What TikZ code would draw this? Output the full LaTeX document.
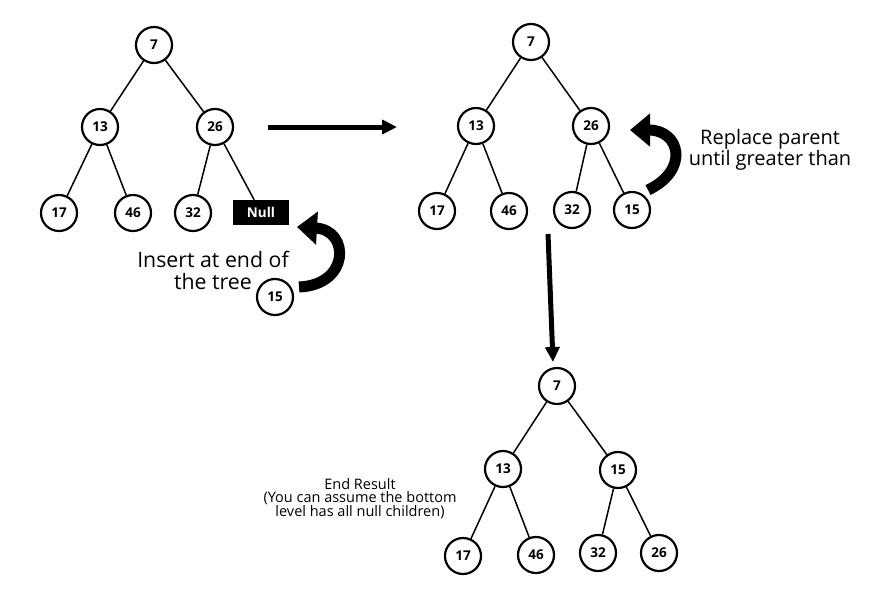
\documentclass[tikz,border=0pt]{standalone}
\usepackage{fontspec}
\setmainfont{Open Sans}
\usepackage{tikz}
\usetikzlibrary{shapes.geometric, arrows.meta, positioning, calc}
\tikzstyle{heapnode} = [circle, minimum size=36pt, inner sep=0pt, text centered, draw=black, line width=2.2pt, fill=white, font=\bfseries\fontsize{13.5}{13.5}\selectfont]
\tikzstyle{nullnode} = [rectangle, minimum width=56pt, minimum height=25pt, inner sep=0pt, fill=black, text=white, font=\bfseries\fontsize{13.5}{13.5}\selectfont]
\tikzstyle{edge} = [line width=1.5pt]
\tikzstyle{arrow} = [line width=5pt, -{Triangle[length=15pt,width=14pt]}]
\tikzstyle{bigarrow} = [line width=11pt, -{Triangle[length=20pt,width=32pt]}]
\tikzstyle{note} = [inner sep=0pt, font=\fontsize{20}{21}\selectfont]

\begin{document}
\begin{tikzpicture}[x=1pt, y=-1pt]
\useasboundingbox (0,0) rectangle (880,611);

% Albero iniziale con il nodo Null
\node (ins_7) [heapnode] at (154,45) {7};
\node (ins_13) [heapnode] at (100,127) {13};
\node (ins_26) [heapnode] at (215,127) {26};
\node (ins_17) [heapnode] at (59,213) {17};
\node (ins_46) [heapnode] at (133,213) {46};
\node (ins_32) [heapnode] at (193,213) {32};
\node (ins_null) [nullnode] at (261,212.5) {Null};
\node (new_15) [heapnode] at (275,297) {15};
\node (ins_text) [note, align=center, anchor=north, font=\fontsize{21.3}{21.5}\selectfont] at (213,251) {Insert at end of\\the tree};

\draw [edge] (ins_7) -- (ins_13);
\draw [edge] (ins_7) -- (ins_26);
\draw [edge] (ins_13) -- (ins_17);
\draw [edge] (ins_13) -- (ins_46);
\draw [edge] (ins_26) -- (ins_32);
\draw [edge] (ins_26) -- (ins_null);

% Albero dopo l'inserimento
\node (swp_7) [heapnode] at (531,42) {7};
\node (swp_13) [heapnode] at (476,126) {13};
\node (swp_26) [heapnode] at (591,126) {26};
\node (swp_17) [heapnode] at (437,211) {17};
\node (swp_46) [heapnode] at (509,211) {46};
\node (swp_32) [heapnode] at (572,210) {32};
\node (swp_15) [heapnode] at (632,210) {15};
\node (swp_text) [note, align=center, anchor=north] at (770,129) {Replace parent\\until greater than};

\draw [edge] (swp_7) -- (swp_13);
\draw [edge] (swp_7) -- (swp_26);
\draw [edge] (swp_13) -- (swp_17);
\draw [edge] (swp_13) -- (swp_46);
\draw [edge] (swp_26) -- (swp_32);
\draw [edge] (swp_26) -- (swp_15);

% Risultato finale
\node (res_7) [heapnode] at (557,386) {7};
\node (res_13) [heapnode] at (503,469) {13};
\node (res_15) [heapnode] at (618,470) {15};
\node (res_17) [heapnode] at (463,556) {17};
\node (res_46) [heapnode] at (536,555) {46};
\node (res_32) [heapnode] at (598,553) {32};
\node (res_26) [heapnode] at (659,553) {26};
\node (res_text) [inner sep=0pt, align=center, anchor=north, font=\fontsize{14.5}{13.5}\selectfont] at (360,478) {End Result\\(You can assume the bottom\\level has all null children)};

\draw [edge] (res_7) -- (res_13);
\draw [edge] (res_7) -- (res_15);
\draw [edge] (res_13) -- (res_17);
\draw [edge] (res_13) -- (res_46);
\draw [edge] (res_15) -- (res_32);
\draw [edge] (res_15) -- (res_26);

% Frecce tra i passaggi
\coordinate (step_a) at (268,127);
\coordinate (step_b) at (397,127);
\coordinate (step_c) at (548,234);
\coordinate (step_d) at (553,362);
\coordinate (ins_from) at (299,287);
\coordinate (ins_to) at (297,227);
\coordinate (swp_from) at (648,190);
\coordinate (swp_to) at (630,130);

\draw [arrow] (step_a) -- (step_b);
\draw [arrow] (step_c) -- (step_d);
\draw [bigarrow] (ins_from) .. controls (350,285) and (350,230) .. (ins_to);
\draw [bigarrow] (swp_from) .. controls (690,170) and (680,130) .. (swp_to);

\end{tikzpicture}
\end{document}
